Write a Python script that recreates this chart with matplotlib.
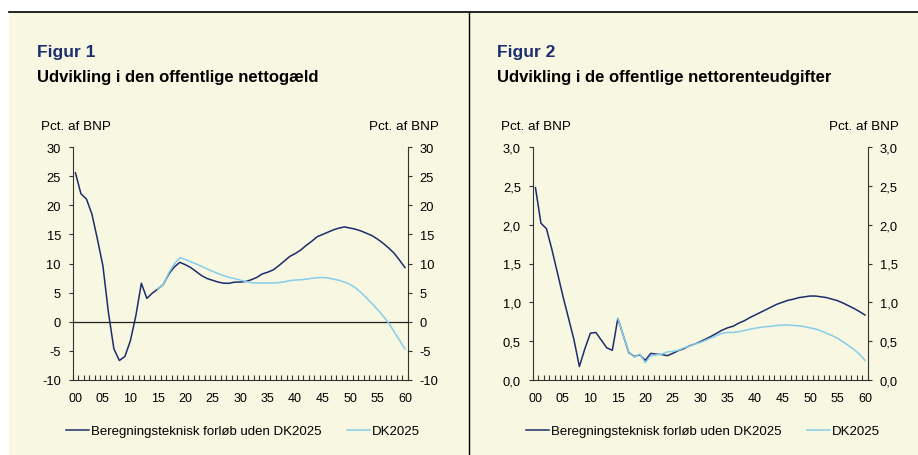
import matplotlib.pyplot as plt
from matplotlib.patches import Rectangle
from matplotlib.lines import Line2D
import numpy as np

plt.rcParams['font.family'] = ['Liberation Sans', 'DejaVu Sans']

years = np.arange(2000, 2061)
dk_start = 2015

# Figur 1: offentlig nettogæld, pct. af BNP
gaeld_uden = [25.6, 22.0, 21.1, 18.5, 14.2, 9.6, 1.6, -4.7, -6.7, -6.0,
              -3.3, 1.0, 6.6, 4.0, 4.9, 5.6, 6.4, 8.2, 9.4, 10.2,
              9.8, 9.3, 8.6, 7.9, 7.4, 7.1, 6.8, 6.6, 6.6, 6.8,
              6.8, 6.9, 7.2, 7.6, 8.2, 8.5, 8.9, 9.6, 10.4, 11.2,
              11.7, 12.3, 13.1, 13.8, 14.6, 15.0, 15.4, 15.8, 16.1, 16.3,
              16.1, 15.9, 15.6, 15.2, 14.8, 14.2, 13.5, 12.7, 11.8, 10.6,
              9.3]
gaeld_dk = [5.6, 6.4, 8.4, 9.9, 11.0,
            10.7, 10.3, 9.9, 9.5, 9.05, 8.65, 8.25, 7.9, 7.6, 7.4,
            7.15, 6.9, 6.7, 6.65, 6.65, 6.65, 6.65, 6.7, 6.85, 7.05,
            7.15, 7.2, 7.3, 7.45, 7.55, 7.6, 7.5, 7.3, 7.1, 6.8,
            6.4, 5.8, 5.0, 4.1, 3.1, 2.1, 1.0, -0.2, -1.7, -3.2,
            -4.7]

# Figur 2: offentlige nettorenteudgifter, pct. af BNP
rente_uden = [2.48, 2.02, 1.95, 1.68, 1.38, 1.08, 0.80, 0.52, 0.17, 0.40,
              0.60, 0.61, 0.51, 0.41, 0.38, 0.79, 0.57, 0.35, 0.30, 0.32,
              0.25, 0.34, 0.33, 0.325, 0.31, 0.34, 0.375, 0.40, 0.435, 0.46,
              0.49, 0.525, 0.56, 0.60, 0.64, 0.67, 0.69, 0.73, 0.76, 0.80,
              0.835, 0.87, 0.905, 0.94, 0.975, 1.00, 1.025, 1.04, 1.06, 1.07,
              1.08, 1.08, 1.07, 1.06, 1.04, 1.02, 0.99, 0.955, 0.92, 0.88,
              0.835]
rente_dk = [0.79, 0.57, 0.36, 0.29, 0.33,
            0.22, 0.31, 0.32, 0.33, 0.36, 0.365, 0.38, 0.41, 0.43, 0.46,
            0.48, 0.51, 0.54, 0.57, 0.60, 0.61, 0.61, 0.62, 0.635, 0.65,
            0.665, 0.675, 0.685, 0.69, 0.70, 0.705, 0.705, 0.70, 0.695, 0.685,
            0.67, 0.655, 0.63, 0.60, 0.57, 0.535, 0.49, 0.44, 0.39, 0.33,
            0.25]

navy = '#1d2c6b'
sky = '#86cdea'
cream = '#f8f7e1'
W, H = 918, 456


def px(x, y):
    return x / W, 1 - y / H


fig = plt.figure(figsize=(W / 100, H / 100), dpi=100)
fig.patches.append(Rectangle(px(9, 456), (W - 9) / W, (456 - 13) / H,
                             transform=fig.transFigure, color=cream, zorder=-5))
fig.lines.append(Line2D([9 / W, 1], [1 - 13 / H] * 2, transform=fig.transFigure,
                        color='black', lw=1.2, zorder=-4))
fig.lines.append(Line2D([469 / W] * 2, [0, 1 - 13 / H], transform=fig.transFigure,
                        color='black', lw=1.0, zorder=-4))

panels = [
    dict(x0=0, num='Figur 1', title='Udvikling i den offentlige nettogæld',
         uden=gaeld_uden, dk=gaeld_dk, ylim=(-10, 30), yticks=np.arange(-10, 31, 5),
         fmt=lambda v: f'{v:.0f}', zero=True),
    dict(x0=460, num='Figur 2', title='Udvikling i de offentlige nettorenteudgifter',
         uden=rente_uden, dk=rente_dk, ylim=(0, 3), yticks=np.arange(0, 3.01, 0.5),
         fmt=lambda v: f'{v:.1f}'.replace('.', ','), zero=False),
]

for p in panels:
    x0 = p['x0']
    ax = fig.add_axes([(72.7 + x0) / W, 1 - 380.7 / H, 335 / W, 232.4 / H])
    ax.set_facecolor('none')
    idx = years - 2000
    dk_idx = np.arange(dk_start - 2000, 61)
    ax.plot(idx, p['uden'], color=navy, lw=1.1, zorder=3,
            label='Beregningsteknisk forløb uden DK2025')
    ax.plot(dk_idx, p['dk'], color=sky, lw=1.1, zorder=4, label='DK2025')
    if p['zero']:
        ax.axhline(0, color='#222222', lw=0.9, zorder=2)

    ax.set_xlim(-0.5, 60.5)
    ax.set_ylim(*p['ylim'])
    ax.spines['top'].set_visible(False)
    for s in ['left', 'right', 'bottom']:
        ax.spines[s].set_color('#333333')
        ax.spines[s].set_linewidth(0.8)

    ax.set_xticks(np.arange(0, 61, 5))
    ax.set_xticklabels([f'{y % 100:02d}' for y in range(2000, 2061, 5)])
    ax.set_xticks(np.arange(-0.5, 61, 1), minor=True)
    ax.tick_params(axis='x', which='major', length=0, pad=9, labelsize=9)
    ax.tick_params(axis='x', which='minor', direction='in', length=3.5,
                   width=0.8, color='#333333', bottom=True)

    ax.set_yticks(p['yticks'])
    ax.set_yticklabels([p['fmt'](v) for v in p['yticks']])
    ax.tick_params(axis='y', which='major', direction='out', length=3, width=0.8,
                   color='#333333', labelsize=9.3, pad=5.5,
                   left=True, right=True, labelleft=True, labelright=True)

    fig.text(*px(37 + x0, 57.5), p['num'], fontsize=12.5, fontweight='bold',
             color='#1b2e6d', va='baseline')
    fig.text(*px(37 + x0, 82), p['title'], fontsize=12, fontweight='bold',
             color='black', va='baseline')
    fig.text(*px(41 + x0, 129.5), 'Pct. af BNP', fontsize=9.7, va='baseline')
    fig.text(*px(439 + x0, 129.5), 'Pct. af BNP', fontsize=9.7, va='baseline',
             ha='right')

    ax.legend(loc='center', bbox_to_anchor=px(243 + x0, 432),
              bbox_transform=fig.transFigure, ncol=2, frameon=False,
              fontsize=9.5, handlelength=1.7, handletextpad=0.15,
              columnspacing=2.0)

fig.savefig('out.png', dpi=100)
